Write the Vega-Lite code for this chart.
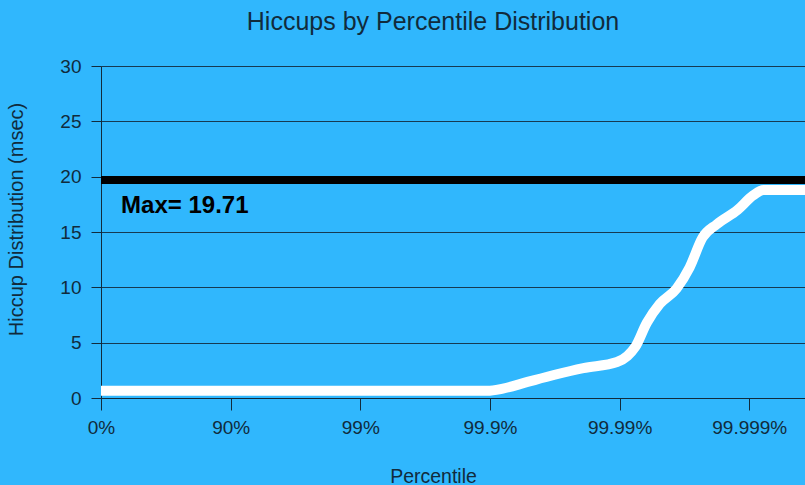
{
  "$schema": "https://vega.github.io/schema/vega-lite/v6.json",
  "width": 704,
  "height": 332,
  "autosize": {"type": "none"},
  "padding": {"left": 101, "top": 66, "right": 0, "bottom": 87},
  "background": "#30b7fd",
  "config": {
    "view": {"stroke": null},
    "font": "Liberation Sans",
    "axis": {"labelColor": "#112b3c", "titleColor": "#112b3c", "domainColor": "#112b3c", "tickColor": "#112b3c", "gridColor": "#163a52", "labelFontWeight": "normal", "titleFontWeight": "normal"}
  },
  "title": {"text": "Hiccups by Percentile Distribution", "fontSize": 25, "fontWeight": "normal", "color": "#112b3c", "dx": -20, "offset": 22, "font": "Liberation Sans"},
  "datasets": {
    "curve": [
      {"nines": 0, "hiccup": 0.65},
      {"nines": 2.98, "hiccup": 0.65},
      {"nines": 3.1, "hiccup": 0.85},
      {"nines": 3.29, "hiccup": 1.45},
      {"nines": 3.5, "hiccup": 2.1},
      {"nines": 3.72, "hiccup": 2.7},
      {"nines": 3.98, "hiccup": 3.25},
      {"nines": 4.06, "hiccup": 3.8},
      {"nines": 4.12, "hiccup": 4.6},
      {"nines": 4.21, "hiccup": 6.8},
      {"nines": 4.31, "hiccup": 8.5},
      {"nines": 4.44, "hiccup": 9.9},
      {"nines": 4.54, "hiccup": 11.8},
      {"nines": 4.64, "hiccup": 14.5},
      {"nines": 4.75, "hiccup": 15.7},
      {"nines": 4.91, "hiccup": 17.0},
      {"nines": 5.03, "hiccup": 18.3},
      {"nines": 5.11, "hiccup": 18.8},
      {"nines": 5.43, "hiccup": 18.8}
    ],
    "max": [{"max": 19.71, "label": "Max= 19.71"}]
  },
  "layer": [
    {
      "data": {"name": "max"},
      "mark": {"type": "rule", "color": "#000000", "strokeWidth": 8},
      "encoding": {
        "y": {"field": "max", "type": "quantitative", "scale": {"domain": [0, 30]}, "axis": {"values": [0, 5, 10, 15, 20, 25, 30], "grid": true, "tickSize": 10, "labelPadding": 10, "labelFontSize": 19, "title": "Hiccup Distribution (msec)", "titleFontSize": 20, "titleX": -79, "titleY": 153, "titleAlign": "center", "titleBaseline": "alphabetic", "titleAngle": -90, "domain": true}}
      }
    },
    {
      "data": {"name": "curve"},
      "mark": {"type": "line", "color": "#ffffff", "strokeWidth": 10, "interpolate": "monotone", "strokeCap": "butt"},
      "encoding": {
        "x": {"field": "nines", "type": "quantitative", "scale": {"domain": [0, 5.43], "nice": false}, "axis": {"values": [0, 1, 2, 3, 4, 5], "labelExpr": "['0%','90%','99%','99.9%','99.99%','99.999%'][datum.value]", "grid": false, "tickSize": 12, "labelPadding": 8, "labelDx": 7, "labelFontSize": 19, "labelFlush": false, "title": "Percentile", "titleFontSize": 19.5, "titleX": 332, "titleY": 84, "titleAlign": "center", "titleBaseline": "alphabetic"}},
        "y": {"field": "hiccup", "type": "quantitative"}
      }
    },
    {
      "data": {"name": "max"},
      "mark": {"type": "text", "align": "left", "baseline": "alphabetic", "fontSize": 24, "fontWeight": "bold", "color": "#000000"},
      "encoding": {
        "x": {"datum": 0.155},
        "y": {"datum": 16.7},
        "text": {"field": "label"}
      }
    }
  ]
}
